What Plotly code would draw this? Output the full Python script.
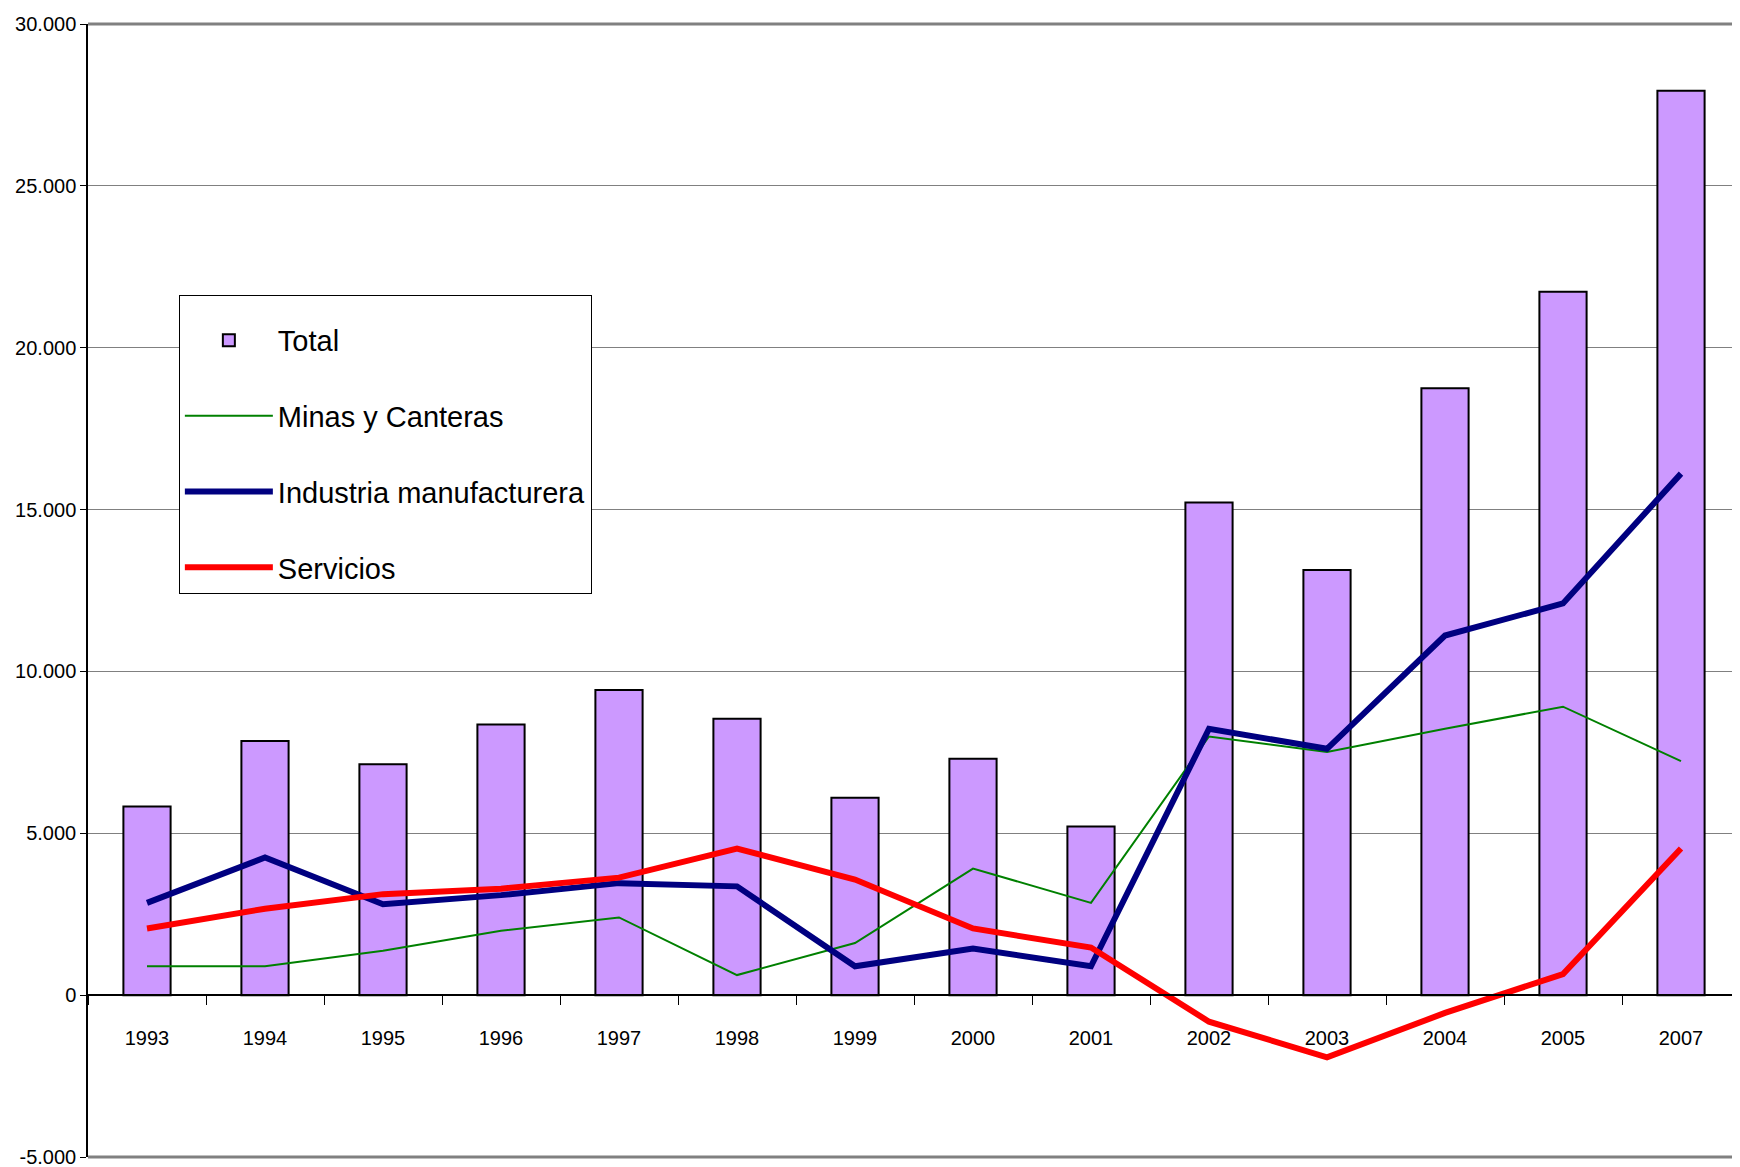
import plotly.graph_objects as go

years = ["1993", "1994", "1995", "1996", "1997", "1998", "1999", "2000", "2001",
         "2002", "2003", "2004", "2005", "2007"]
total = [5830, 7850, 7130, 8360, 9430, 8540, 6100, 7300, 5210,
         15220, 13130, 18750, 21730, 27940]
minas = [890, 890, 1370, 1990, 2400, 620, 1610, 3910, 2850,
         7990, 7510, 8230, 8910, 7230]
industria = [2850, 4250, 2810, 3090, 3460, 3360, 890, 1440, 890,
             8230, 7610, 11110, 12100, 16110]
servicios = [2060, 2670, 3120, 3290, 3630, 4530, 3570, 2060, 1470,
             -820, -1920, -550, 650, 4530]

y_tickvals = [-5000, 0, 5000, 10000, 15000, 20000, 25000, 30000]
y_ticktext = ["-5.000", "0", "5.000", "10.000", "15.000", "20.000", "25.000", "30.000"]

FONT = "Liberation Sans Narrow, Arial Narrow, Liberation Sans, Arial, sans-serif"
TICKFONT = dict(family=FONT, size=20, color="black")

fig = go.Figure()
fig.add_trace(go.Bar(x=years, y=total, name="Total", legendgroup="g1",
                     legendgrouptitle=dict(text=" ", font=dict(size=6)),
                     marker=dict(color="#CC99FF", line=dict(color="black", width=2))))
fig.add_trace(go.Scatter(x=years, y=minas, name="Minas y Canteras", legendgroup="g2",
                         mode="lines", line=dict(color="#008000", width=2)))
fig.add_trace(go.Scatter(x=years, y=industria, name="Industria manufacturera", legendgroup="g3",
                         mode="lines", line=dict(color="#000080", width=6)))
fig.add_trace(go.Scatter(x=years, y=servicios, name="Servicios", legendgroup="g4",
                         mode="lines", line=dict(color="#FF0000", width=6)))

# page has an 8px body margin; the figure is sized to fit inside the window
fig.update_layout(
    width=1732, height=1159,
    margin=dict(l=80, r=0, t=16, b=10),
    plot_bgcolor="white", paper_bgcolor="white",
    font=dict(family=FONT, size=20, color="black"),
    bargap=0.6,
    showlegend=True,
    legend=dict(x=0.055, y=0.761, xanchor="left", yanchor="top",
                bgcolor="white", bordercolor="black", borderwidth=1,
                font=dict(family=FONT, size=29, color="black"),
                tracegroupgap=35, traceorder="grouped", itemwidth=88,
                entrywidth=352, entrywidthmode="pixels"),
)
fig.update_xaxes(type="category", anchor="free", position=(0 - (-5000)) / 35000,
                 showline=True, linecolor="black", linewidth=1.5,
                 ticks="outside", tickson="boundaries", ticklen=9, tickcolor="black",
                 ticklabelstandoff=25, showgrid=False, zeroline=False,
                 automargin=False, tickfont=TICKFONT)
fig.update_yaxes(range=[-5000, 30000], tickvals=y_tickvals, ticktext=y_ticktext,
                 showgrid=True, gridcolor="#808080", gridwidth=1,
                 showline=True, linecolor="black", linewidth=1.5,
                 ticks="outside", ticklen=6, tickcolor="black",
                 zeroline=False, automargin=False, ticklabeloverflow="allow",
                 tickfont=TICKFONT)
fig.add_shape(type="line", xref="paper", yref="paper", x0=0, x1=1, y0=1, y1=1,
              line=dict(color="#808080", width=3))
fig.add_shape(type="line", xref="paper", yref="paper", x0=0, x1=1, y0=0, y1=0,
              line=dict(color="#808080", width=3))

fig.write_html("out.html")
